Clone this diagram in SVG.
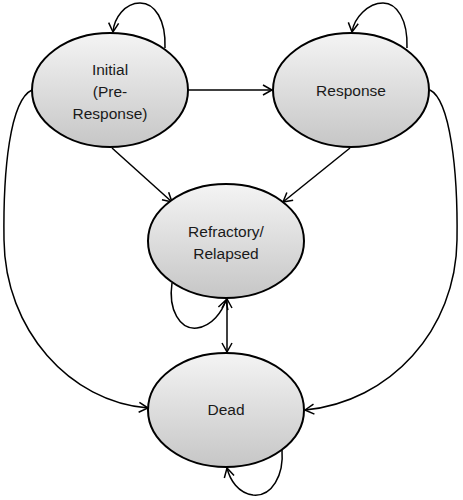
<svg xmlns="http://www.w3.org/2000/svg" width="463" height="500" viewBox="0 0 463 500">
<style>
.node ellipse{fill:url(#g);stroke:#000;stroke-width:2}
.node text{font-family:"Liberation Sans",Arial,sans-serif;font-size:15.5px;fill:#1a1a1a;text-anchor:middle}
.edge{fill:none;stroke:#000;stroke-width:1.5}
</style>
<defs>
<linearGradient id="g" x1="0" y1="0" x2="0" y2="1">
<stop offset="0" stop-color="#f4f4f4"/>
<stop offset="1" stop-color="#c6c6c6"/>
</linearGradient>
<marker id="a" markerUnits="userSpaceOnUse" markerWidth="14" markerHeight="14" viewBox="-12 -7 14 14" refX="0" refY="0" orient="auto">
<polyline points="-9,-5 0,0 -9,5" fill="none" stroke="#000" stroke-width="1.5"/>
</marker>
<marker id="s" markerUnits="userSpaceOnUse" markerWidth="14" markerHeight="14" viewBox="-2 -7 14 14" refX="0" refY="0" orient="auto">
<polyline points="9,-5 0,0 9,5" fill="none" stroke="#000" stroke-width="1.5"/>
</marker>
</defs>
<g id="connectors">
<path class="edge" d="M165,48 C166,20 155,3 140,3 C125,3 114,18 113,32" marker-end="url(#a)"/>
<path class="edge" d="M407,48 C408,20 397,3 383,3 C368,3 354,18 352,32" marker-end="url(#a)"/>
<path class="edge" d="M188,90 L272,90" marker-end="url(#a)"/>
<path class="edge" d="M112,148 L172,202" marker-end="url(#a)"/>
<path class="edge" d="M350,148 L283,202" marker-end="url(#a)"/>
<path class="edge" d="M32,90 C10,100 3,170 4,240 C5,330 70,402 148,408" marker-end="url(#a)"/>
<path class="edge" d="M430,90 C450,100 458,170 457,240 C456,330 390,402 305,410" marker-end="url(#a)"/>
<path class="edge" d="M227,299 L227,352" marker-start="url(#s)" marker-end="url(#a)"/>
<path class="edge" d="M172,283 C168,310 180,330 197,328 C212,326 222,312 226,300" marker-end="url(#a)"/>
<path class="edge" d="M282,450 C284,475 272,497 253,495 C238,493 230,480 227,468" marker-end="url(#a)"/>
</g>
<g id="initial" class="node">
<ellipse cx="110" cy="90" rx="78" ry="57"/>
<text x="110" y="75">Initial</text>
<text x="110" y="97">(Pre-</text>
<text x="110" y="119">Response)</text>
</g>
<g id="response" class="node">
<ellipse cx="351" cy="90" rx="78" ry="57"/>
<text x="351" y="96">Response</text>
</g>
<g id="refractory" class="node">
<ellipse cx="226" cy="241" rx="78" ry="57"/>
<text x="226" y="237">Refractory/</text>
<text x="226" y="259">Relapsed</text>
</g>
<g id="dead" class="node">
<ellipse cx="226" cy="410" rx="78" ry="57"/>
<text x="226" y="415">Dead</text>
</g>
</svg>
